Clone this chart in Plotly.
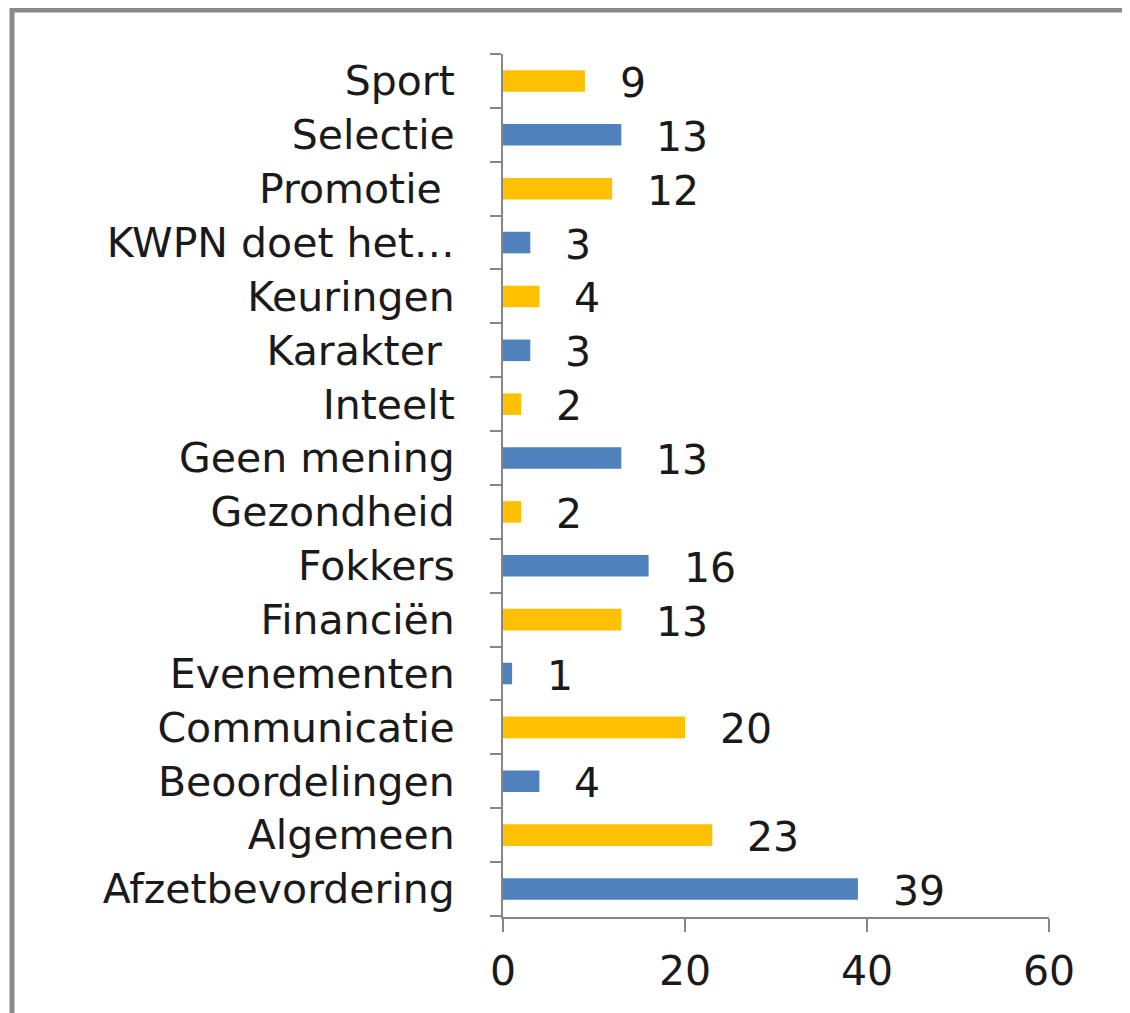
import plotly.graph_objects as go

categories = ["Afzetbevordering", "Algemeen", "Beoordelingen", "Communicatie",
              "Evenementen", "Financiën", "Fokkers", "Gezondheid", "Geen mening",
              "Inteelt", "Karakter\u00a0", "Keuringen", "KWPN doet het…",
              "Promotie\u00a0", "Selectie", "Sport"]
values = [39, 23, 4, 20, 1, 13, 16, 2, 13, 2, 3, 4, 3, 12, 13, 9]
x_ticks = [0, 20, 40, 60]

BLUE = "#4F81BD"
GOLD = "#FFC000"
colors = [BLUE if i % 2 == 0 else GOLD for i in range(len(categories))]

FONT = "DejaVu Sans"
TXT = "#1a1a1a"
AX = "#868686"
FS = 41

fig = go.Figure(go.Bar(
    x=values, y=categories, orientation="h",
    marker=dict(color=colors, line=dict(width=0)),
    hoverinfo="x+y",
))

for c, v in zip(categories, values):
    fig.add_annotation(x=v, y=c, text=str(v), showarrow=False,
                       xanchor="left", xshift=33, yshift=-2,
                       font=dict(family=FONT, size=FS, color=TXT))

PL, PT, PW, PH = 495, 46, 546, 863
fig.update_layout(
    width=1130, height=1013,
    margin=dict(l=PL, r=1130 - PL - PW, t=PT, b=1013 - PT - PH),
    paper_bgcolor="white", plot_bgcolor="white",
    bargap=0.6, showlegend=False,
    font=dict(family=FONT, size=FS, color=TXT),
    xaxis=dict(range=[0, 60], tickvals=x_ticks, ticktext=[str(t) for t in x_ticks],
               showgrid=False, zeroline=False, showline=True, linecolor=AX, linewidth=2,
               ticks="outside", ticklen=13, tickwidth=2, tickcolor=AX,
               ticklabelstandoff=4,
               tickfont=dict(family=FONT, size=FS, color=TXT), fixedrange=True),
    yaxis=dict(type="category", categoryorder="array", categoryarray=categories,
               showgrid=False, zeroline=False, showline=True, linecolor=AX, linewidth=2,
               ticks="outside", ticklen=11, tickwidth=2, tickcolor=AX,
               tickson="boundaries", ticklabelstandoff=38,
               tickfont=dict(family=FONT, size=FS, color=TXT), fixedrange=True),
)

# chart frame (left and top border), page offset of 8px from body margin
OFF = 8
fx_left = (12 - OFF - PL) / PW
fx_right = (1130 - OFF - PL) / PW
fy_top = (PT + PH - (10 - OFF)) / PH
fy_bot = (PT + PH - (1013 - OFF)) / PH
fig.add_shape(type="path", xref="paper", yref="paper",
              path=f"M {fx_left} {fy_bot} L {fx_left} {fy_top} L {fx_right} {fy_top}",
              line=dict(color="#8a8a8a", width=5))

fig.write_html("out.html")
